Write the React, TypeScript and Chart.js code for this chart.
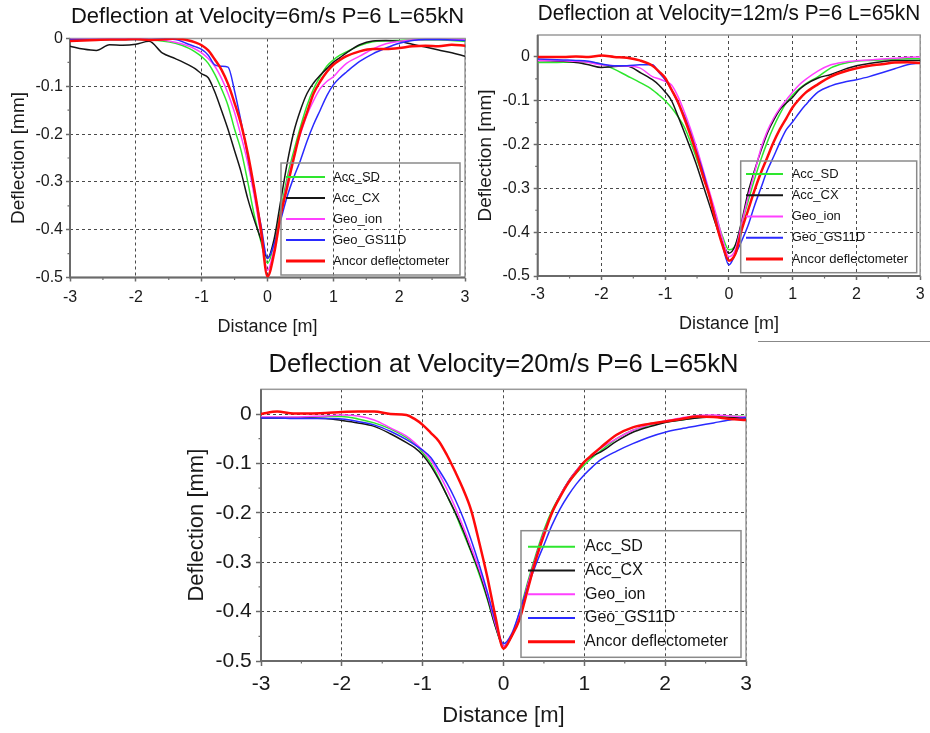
import React, { useEffect, useRef } from 'react';
import { Chart, registerables } from 'chart.js';

Chart.register(...registerables);
Chart.defaults.font.family = "'Liberation Sans', Arial, Helvetica, sans-serif";

// ---------- DATA ----------
const X = [-3, -2.8, -2.6, -2.4, -2.2, -2, -1.8, -1.6, -1.4, -1.2,
  -1.1, -1, -0.9, -0.8, -0.7, -0.6, -0.5, -0.4, -0.3, -0.2, -0.1, 0, 0.1, 0.2, 0.3, 0.4, 0.5, 0.6, 0.7, 0.8, 0.9, 1, 1.1,
  1.2, 1.4, 1.6, 1.8, 2, 2.2, 2.4, 2.6, 2.8, 3];

const X_TICKS = [-3, -2, -1, 0, 1, 2, 3];
const Y_TICKS = [0, -0.1, -0.2, -0.3, -0.4, -0.5];
const X_MINOR = [-2.5, -1.5, -0.5, 0.5, 1.5, 2.5];
const Y_MINOR = [-0.05, -0.15, -0.25, -0.35, -0.45];

const SERIES_NAMES = ['Acc_SD', 'Acc_CX', 'Geo_ion', 'Geo_GS11D', 'Ancor deflectometer'];
const TITLES = [
  'Deflection at Velocity=6m/s P=6 L=65kN',
  'Deflection at Velocity=12m/s P=6 L=65kN',
  'Deflection at Velocity=20m/s P=6 L=65kN',
];
const X_TITLE = 'Distance [m]';
const Y_TITLE = 'Deflection [mm]';

// Velocity 6 m/s
const V6_ACC_SD = [-0.002, -0.002, -0.002, -0.002, -0.002, -0.002, -0.003, -0.005, -0.01, -0.02,
  -0.028, -0.038, -0.052, -0.075, -0.105, -0.14, -0.19, -0.235, -0.3, -0.37, -0.425, -0.47, -0.43, -0.36, -0.29, -0.235, -0.185, -0.14, -0.105, -0.08, -0.058, -0.045, -0.035,
  -0.028, -0.015, -0.007, -0.005, -0.004, -0.003, -0.003, -0.003, -0.004, -0.006];
const V6_ACC_CX = [-0.016, -0.022, -0.025, -0.013, -0.014, -0.012, -0.006, -0.03, -0.042, -0.055,
  -0.063, -0.074, -0.082, -0.112, -0.15, -0.19, -0.235, -0.28, -0.335, -0.38, -0.42, -0.46, -0.42, -0.34, -0.26, -0.195, -0.15, -0.115, -0.093, -0.077, -0.063, -0.05, -0.04,
  -0.03, -0.013, -0.005, -0.004, -0.006, -0.012, -0.018, -0.024, -0.03, -0.037];
const V6_GEO_ION = [-0.001, -0.001, -0.001, -0.001, -0.001, -0.001, -0.002, -0.003, -0.008, -0.016,
  -0.022, -0.03, -0.042, -0.058, -0.083, -0.115, -0.155, -0.205, -0.26, -0.33, -0.41, -0.485, -0.44, -0.37, -0.3, -0.245, -0.2, -0.16, -0.13, -0.105, -0.09, -0.08, -0.065,
  -0.052, -0.037, -0.022, -0.011, -0.006, -0.003, -0.002, -0.002, -0.002, -0.003];
const V6_GEO_GS11D = [-0.002, -0.002, -0.002, -0.002, -0.002, -0.002, -0.002, -0.001, -0.002, -0.012,
  -0.017, -0.023, -0.035, -0.055, -0.058, -0.06, -0.11, -0.175, -0.245, -0.32, -0.39, -0.46, -0.43, -0.38, -0.33, -0.29, -0.255, -0.215, -0.18, -0.15, -0.12, -0.097, -0.082,
  -0.07, -0.048, -0.032, -0.02, -0.01, -0.004, -0.002, -0.002, -0.003, -0.004];
const V6_ANCOR = [-0.005, -0.004, -0.003, -0.002, -0.002, -0.001, -0.003, -0.002, 0, -0.004,
  -0.008, -0.014, -0.025, -0.044, -0.065, -0.095, -0.135, -0.18, -0.24, -0.315, -0.4, -0.498, -0.45, -0.37, -0.31, -0.25, -0.195, -0.155, -0.115, -0.09, -0.07, -0.055, -0.045,
  -0.037, -0.027, -0.022, -0.022, -0.02, -0.016, -0.015, -0.016, -0.013, -0.015];

// Velocity 12 m/s
const V12_ACC_SD = [-0.013, -0.013, -0.012, -0.012, -0.012, -0.016, -0.028, -0.043, -0.058, -0.075,
  -0.087, -0.1, -0.116, -0.136, -0.16, -0.195, -0.235, -0.275, -0.318, -0.365, -0.41, -0.44, -0.43, -0.38, -0.33, -0.28, -0.235, -0.195, -0.16, -0.13, -0.105, -0.087, -0.073,
  -0.062, -0.045, -0.025, -0.015, -0.01, -0.008, -0.007, -0.005, -0.004, -0.004];
const V12_ACC_CX = [-0.008, -0.009, -0.01, -0.013, -0.018, -0.024, -0.022, -0.021, -0.035, -0.052,
  -0.064, -0.08, -0.1, -0.135, -0.172, -0.21, -0.25, -0.295, -0.34, -0.385, -0.425, -0.448, -0.43, -0.375, -0.31, -0.26, -0.215, -0.175, -0.145, -0.12, -0.105, -0.092, -0.075,
  -0.063, -0.048, -0.04, -0.029, -0.02, -0.015, -0.011, -0.008, -0.008, -0.008];
const V12_GEO_ION = [-0.008, -0.008, -0.009, -0.01, -0.013, -0.018, -0.02, -0.021, -0.025, -0.045,
  -0.05, -0.056, -0.064, -0.09, -0.125, -0.165, -0.21, -0.26, -0.31, -0.36, -0.415, -0.456, -0.44, -0.38, -0.32, -0.265, -0.21, -0.17, -0.14, -0.117, -0.098, -0.08, -0.064,
  -0.052, -0.032, -0.018, -0.012, -0.009, -0.007, -0.005, -0.003, -0.001, 0];
const V12_GEO_GS11D = [-0.005, -0.006, -0.007, -0.008, -0.01, -0.016, -0.02, -0.02, -0.018, -0.018,
  -0.035, -0.052, -0.075, -0.105, -0.135, -0.175, -0.22, -0.265, -0.32, -0.375, -0.43, -0.475, -0.45, -0.42, -0.385, -0.34, -0.3, -0.26, -0.228, -0.195, -0.166, -0.148, -0.128,
  -0.11, -0.08, -0.066, -0.058, -0.052, -0.045, -0.036, -0.027, -0.018, -0.014];
const V12_ANCOR = [0, 0, 0, 0.001, 0, 0.003, 0, -0.002, -0.008, -0.02,
  -0.033, -0.048, -0.075, -0.103, -0.14, -0.18, -0.225, -0.275, -0.32, -0.38, -0.43, -0.465, -0.45, -0.395, -0.35, -0.305, -0.265, -0.23, -0.195, -0.165, -0.14, -0.115, -0.097,
  -0.082, -0.062, -0.045, -0.034, -0.026, -0.02, -0.017, -0.013, -0.012, -0.014];

// Velocity 20 m/s
const V20_ACC_SD = [-0.007, -0.007, -0.007, -0.006, -0.005, -0.005, -0.01, -0.018, -0.03, -0.048,
  -0.06, -0.078, -0.1, -0.13, -0.165, -0.2, -0.24, -0.28, -0.325, -0.375, -0.43, -0.47, -0.45, -0.4, -0.34, -0.285, -0.235, -0.195, -0.165, -0.14, -0.12, -0.103, -0.088,
  -0.075, -0.05, -0.033, -0.024, -0.016, -0.012, -0.007, -0.004, -0.004, -0.005];
const V20_ACC_CX = [-0.008, -0.008, -0.008, -0.008, -0.009, -0.013, -0.018, -0.025, -0.04, -0.058,
  -0.068, -0.083, -0.105, -0.133, -0.165, -0.198, -0.235, -0.278, -0.32, -0.372, -0.43, -0.47, -0.45, -0.405, -0.345, -0.29, -0.24, -0.2, -0.165, -0.137, -0.115, -0.097, -0.085,
  -0.077, -0.055, -0.037, -0.026, -0.017, -0.012, -0.008, -0.006, -0.007, -0.008];
const V20_GEO_ION = [-0.006, -0.006, -0.006, -0.005, -0.004, -0.002, -0.004, -0.012, -0.028, -0.045,
  -0.058, -0.074, -0.093, -0.12, -0.152, -0.188, -0.228, -0.27, -0.315, -0.365, -0.425, -0.47, -0.45, -0.405, -0.345, -0.29, -0.24, -0.2, -0.165, -0.138, -0.115, -0.097, -0.083,
  -0.07, -0.05, -0.033, -0.022, -0.014, -0.008, -0.003, -0.002, -0.004, -0.006];
const V20_GEO_GS11D = [-0.008, -0.008, -0.009, -0.009, -0.009, -0.01, -0.015, -0.022, -0.035, -0.052,
  -0.062, -0.073, -0.088, -0.113, -0.14, -0.172, -0.21, -0.255, -0.305, -0.36, -0.42, -0.465, -0.445, -0.4, -0.35, -0.305, -0.265, -0.225, -0.192, -0.165, -0.142, -0.123, -0.107,
  -0.093, -0.075, -0.06, -0.047, -0.037, -0.03, -0.024, -0.018, -0.012, -0.007];
const V20_ANCOR = [0, 0.005, 0.001, 0.001, 0.002, 0.004, 0.005, 0.005, 0, -0.002,
  -0.01, -0.022, -0.038, -0.055, -0.083, -0.116, -0.152, -0.195, -0.26, -0.33, -0.41, -0.475, -0.45, -0.415, -0.355, -0.295, -0.245, -0.2, -0.168, -0.14, -0.118, -0.097, -0.082,
  -0.068, -0.042, -0.027, -0.02, -0.015, -0.01, -0.005, -0.006, -0.01, -0.012];

const PANEL_SERIES = [
  [V6_ACC_SD, V6_ACC_CX, V6_GEO_ION, V6_GEO_GS11D, V6_ANCOR],
  [V12_ACC_SD, V12_ACC_CX, V12_GEO_ION, V12_GEO_GS11D, V12_ANCOR],
  [V20_ACC_SD, V20_ACC_CX, V20_GEO_ION, V20_GEO_GS11D, V20_ANCOR],
];
const Y_MAX = [0, 0.05, 0.05];

// ---------- STYLE / LAYOUT ----------
const COLORS = ['#2ee62e', '#161616', '#ff40ff', '#2a2aff', '#ff0a0a'];
const WIDTHS = [1.5, 1.5, 1.5, 1.5, 2.5];
const ORDERS = [4, 3, 2, 1, 0];
const FONT = "'Liberation Sans', Arial, Helvetica, sans-serif";

const LAYOUTS = [
  {
    left: 0, top: 0, w: 476, h: 340,
    area: { l: 70, r: 465, t: 38.5, b: 277.5 },
    title: { size: 22, pt: 3.3 },
    tick: { size: 16, len: 4, yPad: 3, xPad: 6 },
    yTitle: { size: 19, pt: 7 },
    xTitle: { size: 18, pb: 2.2 },
    legend: { l: 281, t: 163, r: 460, b: 275, y0: 177, dy: 21, s0: 286, s1: 325, tx: 333, font: 13 },
  },
  {
    left: 465, top: 0, w: 465, h: 340,
    area: { l: 72.7, r: 456, t: 35, b: 276 },
    title: { size: 21.5, pt: 1.1 },
    tick: { size: 16, len: 4, yPad: 3.7, xPad: 5.4 },
    yTitle: { size: 19, pt: 9.4 },
    xTitle: { size: 18, pb: 5.2 },
    legend: { l: 275.7, t: 161, r: 451.7, b: 272.7, y0: 174, dy: 21.25, s0: 281, s1: 318, tx: 326.7, font: 13 },
  },
  {
    left: 170, top: 340, w: 600, h: 393,
    area: { l: 91, r: 576, t: 49.3, b: 321 },
    title: { size: 25.5, pt: 9.4 },
    tick: { size: 21, len: 5, yPad: 4.3, xPad: 5.4 },
    yTitle: { size: 22, pt: 13.5 },
    xTitle: { size: 22, pb: 3.5 },
    legend: { l: 351, t: 190.7, r: 571, b: 317.3, y0: 206.7, dy: 23.75, s0: 358, s1: 405, tx: 415, font: 16 },
  },
];

const framePlugin = {
  id: 'frameMinor',
  beforeDatasetsDraw(chart: any) {
    const { ctx, chartArea: a, scales } = chart;
    const x = scales.x, y = scales.y;
    ctx.save();
    ctx.setLineDash([]);
    ctx.strokeStyle = '#6e6e6e';
    ctx.lineWidth = 1.2;
    ctx.beginPath();
    X_MINOR.forEach((v) => {
      const px = x.getPixelForValue(v);
      ctx.moveTo(px, a.bottom);
      ctx.lineTo(px, a.bottom + 2.5);
    });
    Y_MINOR.forEach((v) => {
      const py = y.getPixelForValue(v);
      ctx.moveTo(a.left - 2.5, py);
      ctx.lineTo(a.left, py);
    });
    ctx.stroke();
    ctx.strokeStyle = '#9a9a9a';
    ctx.lineWidth = 1.5;
    ctx.strokeRect(a.left, a.top, a.right - a.left, a.bottom - a.top);
    ctx.strokeStyle = '#6a6a6a';
    ctx.lineWidth = 2;
    ctx.beginPath();
    ctx.moveTo(a.left, a.top);
    ctx.lineTo(a.left, a.bottom);
    ctx.lineTo(a.right, a.bottom);
    ctx.stroke();
    ctx.restore();
  },
};

const boxLegendPlugin = {
  id: 'boxLegend',
  afterDatasetsDraw(chart: any, _args: any, opts: any) {
    const { ctx } = chart;
    ctx.save();
    ctx.setLineDash([]);
    ctx.strokeStyle = '#8a8a8a';
    ctx.lineWidth = 1.5;
    ctx.strokeRect(opts.l, opts.t, opts.r - opts.l, opts.b - opts.t);
    ctx.font = `${opts.font}px ${FONT}`;
    ctx.textBaseline = 'middle';
    ctx.textAlign = 'left';
    chart.data.datasets.forEach((ds: any, i: number) => {
      const yy = opts.y0 + i * opts.dy;
      ctx.strokeStyle = ds.borderColor;
      ctx.lineWidth = ds.borderWidth + 0.5;
      ctx.beginPath();
      ctx.moveTo(opts.s0, yy);
      ctx.lineTo(opts.s1, yy);
      ctx.stroke();
      ctx.fillStyle = '#151515';
      ctx.fillText(ds.label, opts.tx, yy);
    });
    ctx.restore();
  },
};

function Panel({ idx }: { idx: number }) {
  const ref = useRef<HTMLCanvasElement>(null);
  const L = LAYOUTS[idx];
  useEffect(() => {
    const series = PANEL_SERIES[idx];
    const datasets = series.map((vals, i) => ({
      label: SERIES_NAMES[i],
      data: X.map((x, j) => ({ x, y: vals[j] })),
      borderColor: COLORS[i],
      backgroundColor: COLORS[i],
      borderWidth: WIDTHS[i],
      pointRadius: 0,
      fill: false,
      cubicInterpolationMode: 'monotone' as const,
      order: ORDERS[i],
    }));
    const gridCommon = {
      color: '#4a4a4a',
      lineWidth: 1,
      drawTicks: true,
      tickLength: L.tick.len,
      tickColor: '#6a6a6a',
      tickWidth: 1.5,
      tickBorderDash: [],
    };
    const chart = new Chart(ref.current as HTMLCanvasElement, {
      type: 'line',
      data: { datasets },
      plugins: [framePlugin, boxLegendPlugin],
      options: {
        responsive: false,
        animation: false,
        events: [],
        layout: { padding: { left: 0, top: 0, bottom: 0, right: L.w - L.area.r } },
        plugins: {
          legend: { display: false },
          tooltip: { enabled: false },
          title: {
            display: true,
            text: TITLES[idx],
            fullSize: false,
            color: '#111',
            font: { size: L.title.size, weight: 'normal', family: FONT, lineHeight: 1.2 },
            padding: { top: L.title.pt, bottom: L.area.t - L.title.pt - L.title.size * 1.2 },
          },
          boxLegend: L.legend,
        } as any,
        scales: {
          x: {
            type: 'linear',
            min: -3,
            max: 3,
            afterBuildTicks: (s: any) => { s.ticks = X_TICKS.map((v) => ({ value: v })); },
            afterFit: (s: any) => { s.height = L.h - L.area.b; },
            grid: gridCommon,
            border: { display: false, dash: [3, 3] },
            ticks: {
              autoSkip: false,
              maxRotation: 0,
              padding: L.tick.xPad,
              color: '#1a1a1a',
              font: { size: L.tick.size, family: FONT },
              callback: (v: any) => String(v),
            },
            title: {
              display: true,
              text: X_TITLE,
              color: '#1a1a1a',
              font: { size: L.xTitle.size, family: FONT, lineHeight: 1.2 },
              padding: { top: 0, bottom: L.xTitle.pb },
            },
          },
          y: {
            type: 'linear',
            min: -0.5,
            max: Y_MAX[idx],
            afterBuildTicks: (s: any) => { s.ticks = Y_TICKS.map((v) => ({ value: v })); },
            afterFit: (s: any) => { s.width = L.area.l; },
            grid: gridCommon,
            border: { display: false, dash: [3, 3] },
            ticks: {
              padding: L.tick.yPad,
              color: '#1a1a1a',
              font: { size: L.tick.size, family: FONT },
              callback: (v: any) => (Math.abs(v) < 1e-9 ? '0' : Number(v).toFixed(1)),
            },
            title: {
              display: true,
              text: Y_TITLE,
              color: '#1a1a1a',
              font: { size: L.yTitle.size, family: FONT, lineHeight: 1.2 },
              padding: { top: L.yTitle.pt, bottom: 0 },
            },
          },
        },
      } as any,
    });
    return () => chart.destroy();
  }, [idx]);
  return (
    <canvas
      ref={ref}
      width={L.w}
      height={L.h}
      style={{ position: 'absolute', left: L.left, top: L.top, width: L.w, height: L.h }}
    />
  );
}

export default function App() {
  return (
    <div style={{ position: 'absolute', left: 0, top: 0, width: 930, height: 733, background: '#fff', overflow: 'hidden' }}>
      <Panel idx={0} />
      <Panel idx={1} />
      <Panel idx={2} />
      <div style={{ position: 'absolute', left: 758, top: 341, width: 172, height: 1, background: '#888' }} />
    </div>
  );
}
